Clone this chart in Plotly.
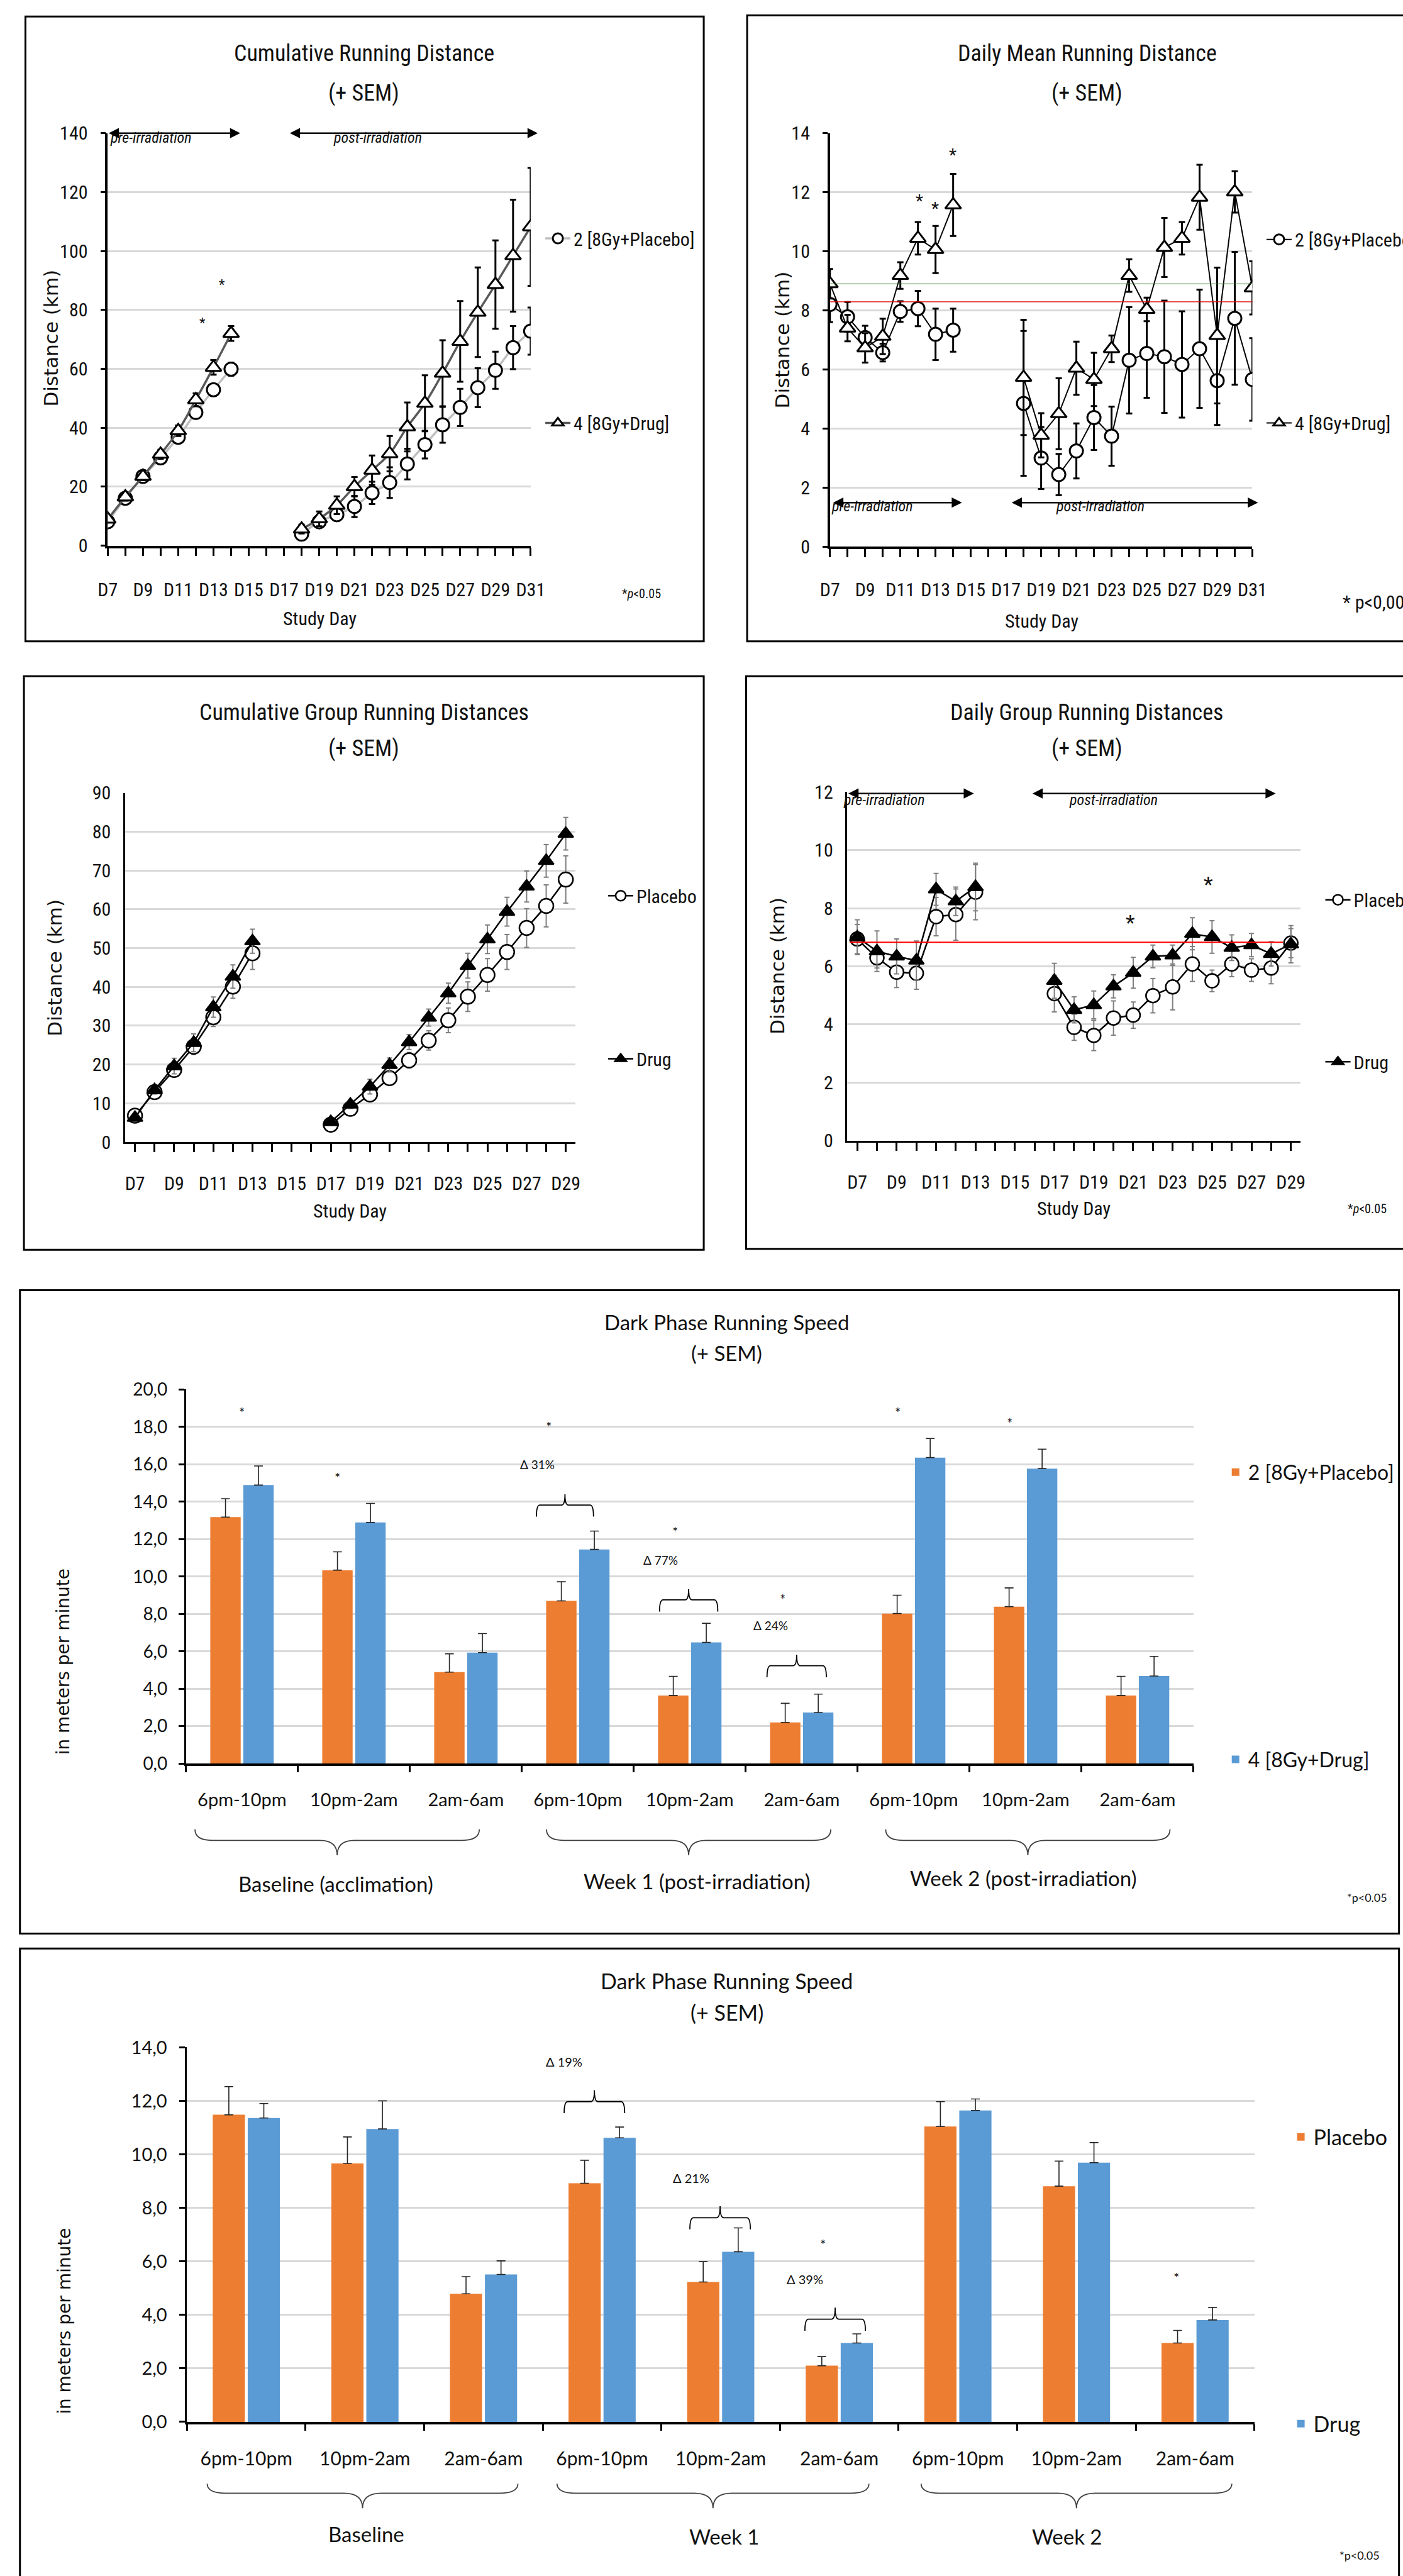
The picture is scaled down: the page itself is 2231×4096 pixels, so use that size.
import plotly.graph_objects as go

REF_W, REF_H = 2813, 5165
OUT_W, OUT_H = 2231, 4096


def px(x):
    return x / REF_W


def py(y):
    return 1 - y / REF_H


N = None
# ---------------- data ----------------
days_a = list(range(7, 32))                      # D7 .. D31
day_ticks_a = list(range(7, 32, 2))
day_labels_a = [f"D{d}" for d in day_ticks_a]

cum_placebo = [8.1, 16.1, 23.5, 29.8, 36.8, 45.2, 52.9, 59.9, N, N, N,
               3.9, 8.1, 10.5, 13.3, 17.9, 21.4, 27.7, 34.3, 41.0, 46.9, 53.6, 59.5, 67.2, 72.8]
cum_placebo_sem = [0.8, 1.0, 1.2, 1.3, 1.5, 1.8, 2.0, 2.2, N, N, N,
                   1.0, 1.5, 2.0, 3.6, 3.8, 5.2, 5.2, 4.7, 6.1, 6.3, 6.6, 6.3, 7.3, 8.0]
cum_drug = [9.0, 16.5, 23.5, 31.0, 39.0, 49.5, 60.5, 72.0, N, N, N,
            5.6, 9.1, 13.7, 20.0, 25.6, 31.2, 40.3, 48.3, 58.5, 69.3, 79.2, 88.6, 98.4, 108.2]
cum_drug_sem = [1.0, 1.2, 1.3, 1.5, 1.8, 2.2, 2.5, 2.5, N, N, N,
                1.5, 2.5, 3.0, 3.3, 5.0, 6.0, 8.3, 9.5, 11.2, 13.7, 15.2, 15.0, 19.0, 20.0]

dm_placebo = [8.2, 7.78, 7.08, 6.57, 7.96, 8.06, 7.19, 7.33, N, N, N,
              4.85, 3.0, 2.44, 3.24, 4.37, 3.74, 6.31, 6.54, 6.43, 6.17, 6.7, 5.62, 7.73, 5.66]
dm_placebo_sem = [0.6, 0.5, 0.4, 0.3, 0.35, 0.6, 0.87, 0.73, N, N, N,
                  2.45, 1.05, 0.7, 0.93, 1.1, 1.0, 1.8, 1.5, 1.9, 1.8, 2.0, 1.5, 2.25, 1.4]
dm_drug = [8.9, 7.4, 6.73, 7.12, 9.18, 10.44, 10.06, 11.57, N, N, N,
           5.73, 3.77, 4.5, 6.04, 5.66, 6.7, 9.18, 8.03, 10.13, 10.44, 11.83, 7.15, 12.01, 8.76]
dm_drug_sem = [0.5, 0.45, 0.5, 0.6, 0.45, 0.55, 0.8, 1.05, N, N, N,
               1.95, 0.75, 1.2, 0.9, 0.9, 0.45, 0.55, 0.4, 1.0, 0.55, 1.1, 2.3, 0.7, 0.9]
dm_ref_green = 8.9
dm_ref_red = 8.29

days_b = list(range(7, 30))                      # D7 .. D29
day_ticks_b = list(range(7, 30, 2))
day_labels_b = [f"D{d}" for d in day_ticks_b]

cg_placebo = [6.8, 12.9, 18.6, 24.6, 32.2, 40.1, 48.7, N, N, N,
              4.5, 8.6, 12.3, 16.5, 21.1, 26.2, 31.4, 37.5, 43.1, 49.0, 55.2, 60.9, 67.7]
cg_placebo_sem = [0.8, 1.2, 1.6, 2.0, 2.4, 3.0, 4.2, N, N, N,
                  0.8, 1.0, 1.3, 1.6, 2.0, 2.5, 3.2, 3.8, 4.2, 4.5, 5.0, 5.4, 6.1]
cg_drug = [6.3, 13.4, 19.6, 25.6, 34.8, 42.7, 51.8, N, N, N,
           5.2, 9.7, 14.3, 19.9, 25.8, 32.1, 38.4, 45.5, 52.3, 59.4, 65.9, 72.5, 79.5]
cg_drug_sem = [0.8, 1.0, 2.0, 2.3, 2.6, 3.0, 3.1, N, N, N,
               0.8, 1.0, 1.9, 1.8, 1.9, 2.2, 2.6, 3.2, 3.7, 3.7, 4.0, 4.2, 4.2]

dg_placebo = [6.94, 6.29, 5.8, 5.76, 7.71, 7.78, 8.55, N, N, N,
              5.06, 3.9, 3.62, 4.22, 4.32, 4.99, 5.29, 6.08, 5.5, 6.08, 5.87, 5.94, 6.8]
dg_placebo_sem = [0.5, 0.35, 0.53, 0.55, 0.66, 0.88, 0.95, N, N, N,
                  0.63, 0.45, 0.52, 0.59, 0.45, 0.59, 0.79, 0.6, 0.37, 0.44, 0.39, 0.54, 0.5]
dg_drug = [7.0, 6.52, 6.34, 6.2, 8.65, 8.24, 8.73, N, N, N,
           5.5, 4.5, 4.67, 5.31, 5.78, 6.34, 6.38, 7.12, 7.01, 6.64, 6.73, 6.43, 6.76]
dg_drug_sem = [0.6, 0.7, 0.6, 0.67, 0.55, 0.49, 0.82, N, N, N,
               0.6, 0.45, 0.48, 0.4, 0.53, 0.39, 0.35, 0.55, 0.56, 0.44, 0.4, 0.42, 0.64]
dg_ref_red = 6.83

slot_labels = ["6pm-10pm", "10pm-2am", "2am-6am"] * 3
slot_pos = list(range(9))
groups_1 = ["Baseline (acclimation)", "Week 1 (post-irradiation)", "Week 2 (post-irradiation)"]
groups_2 = ["Baseline", "Week 1", "Week 2"]

sp1_placebo = [13.18, 10.34, 4.89, 8.70, 3.64, 2.20, 8.02, 8.39, 3.64]
sp1_placebo_sem = [0.98, 0.98, 0.98, 1.02, 1.02, 1.02, 0.98, 1.0, 1.02]
sp1_drug = [14.89, 12.89, 5.93, 11.45, 6.48, 2.73, 16.36, 15.77, 4.68]
sp1_drug_sem = [1.02, 1.02, 1.02, 0.98, 1.02, 0.98, 1.02, 1.04, 1.05]

sp2_placebo = [11.48, 9.66, 4.79, 8.92, 5.23, 2.10, 11.04, 8.81, 2.95]
sp2_placebo_sem = [1.05, 0.99, 0.64, 0.86, 0.76, 0.34, 0.93, 0.94, 0.47]
sp2_drug = [11.36, 10.95, 5.51, 10.62, 6.36, 2.95, 11.64, 9.69, 3.81]
sp2_drug_sem = [0.54, 1.05, 0.51, 0.40, 0.89, 0.34, 0.43, 0.75, 0.47]

# ---------------- styles ----------------
CAL = "Lato, 'Open Sans', sans-serif"
NAR = "'Liberation Sans Narrow', 'Roboto Condensed', 'DejaVu Sans Condensed', Lato, sans-serif"
VER = "'DejaVu Sans', Verdana, sans-serif"
TXT = "#111111"
GRID = "#d9d9d9"
ORANGE = "#ED7D31"
BLUE = "#5B9BD5"

fig = go.Figure()


def err(arr, color="black", thick=2.5, width=5, plus_only=False):
    d = dict(type="data", array=arr, color=color, thickness=thick, width=width, visible=True)
    if plus_only:
        d.update(symmetric=False, arrayminus=[0] * len(arr))
    return d


def mk(symbol, size, fill="white", lw=2.5):
    return dict(symbol=symbol, size=size, color=fill, line=dict(color="black", width=lw))


# Panel 1
fig.add_trace(go.Scatter(x=days_a, y=cum_placebo, xaxis="x", yaxis="y", mode="lines+markers",
                         name="2 [8Gy+Placebo]", legend="legend",
                         line=dict(color="#bfbfbf", width=3.5, shape="spline"),
                         marker=mk("circle", 21, lw=3), error_y=err(cum_placebo_sem, thick=3)))
fig.add_trace(go.Scatter(x=days_a, y=cum_drug, xaxis="x", yaxis="y", mode="lines+markers",
                         name="4 [8Gy+Drug]", legend="legend2",
                         line=dict(color="#595959", width=3.5, shape="spline"),
                         marker=mk("triangle-up", 22, lw=3), error_y=err(cum_drug_sem, thick=3)))
# Panel 2
fig.add_trace(go.Scatter(x=days_a, y=dm_placebo, xaxis="x2", yaxis="y2", mode="lines+markers",
                         name="2 [8Gy+Placebo]", legend="legend3",
                         line=dict(color="black", width=2),
                         marker=mk("circle", 21, lw=3), error_y=err(dm_placebo_sem, thick=3)))
fig.add_trace(go.Scatter(x=days_a, y=dm_drug, xaxis="x2", yaxis="y2", mode="lines+markers",
                         name="4 [8Gy+Drug]", legend="legend4",
                         line=dict(color="black", width=2),
                         marker=mk("triangle-up", 22, lw=3), error_y=err(dm_drug_sem, thick=3)))
# Panel 3
fig.add_trace(go.Scatter(x=days_b, y=cg_placebo, xaxis="x3", yaxis="y3", mode="lines+markers",
                         name="Placebo", legend="legend5",
                         line=dict(color="black", width=2.5),
                         marker=mk("circle", 23), error_y=err(cg_placebo_sem, "#7f7f7f", 2, 4)))
fig.add_trace(go.Scatter(x=days_b, y=cg_drug, xaxis="x3", yaxis="y3", mode="lines+markers",
                         name="Drug", legend="legend6",
                         line=dict(color="black", width=2.5),
                         marker=mk("triangle-up", 21, "black"), error_y=err(cg_drug_sem, "#7f7f7f", 2, 4)))
# Panel 4
fig.add_trace(go.Scatter(x=days_b, y=dg_placebo, xaxis="x4", yaxis="y4", mode="lines+markers",
                         name="Placebo", legend="legend7",
                         line=dict(color="black", width=2.5),
                         marker=mk("circle", 22), error_y=err(dg_placebo_sem, "#7f7f7f", 2, 4)))
fig.add_trace(go.Scatter(x=days_b, y=dg_drug, xaxis="x4", yaxis="y4", mode="lines+markers",
                         name="Drug", legend="legend8",
                         line=dict(color="black", width=2.5),
                         marker=mk("triangle-up", 21, "black"), error_y=err(dg_drug_sem, "#7f7f7f", 2, 4)))
# Panel 5
fig.add_trace(go.Bar(x=slot_pos, y=sp1_placebo, xaxis="x5", yaxis="y5", name="2 [8Gy+Placebo]",
                     legend="legend9", marker=dict(color=ORANGE, line=dict(width=0)),
                     error_y=err(sp1_placebo_sem, "#262626", 1.6, 7, True)))
fig.add_trace(go.Bar(x=slot_pos, y=sp1_drug, xaxis="x5", yaxis="y5", name="4 [8Gy+Drug]",
                     legend="legend10", marker=dict(color=BLUE, line=dict(width=0)),
                     error_y=err(sp1_drug_sem, "#262626", 1.6, 7, True)))
# Panel 6
fig.add_trace(go.Bar(x=slot_pos, y=sp2_placebo, xaxis="x6", yaxis="y6", name="Placebo",
                     legend="legend11", marker=dict(color=ORANGE, line=dict(width=0)),
                     error_y=err(sp2_placebo_sem, "#262626", 1.6, 7, True)))
fig.add_trace(go.Bar(x=slot_pos, y=sp2_drug, xaxis="x6", yaxis="y6", name="Drug",
                     legend="legend12", marker=dict(color=BLUE, line=dict(width=0)),
                     error_y=err(sp2_drug_sem, "#262626", 1.6, 7, True)))

# ---------------- axes ----------------


def xline(dom, rng, vals, labels, anchor, standoff, tick0, lw=3.5):
    return dict(domain=dom, range=rng, anchor=anchor, showline=True, linecolor="black", linewidth=lw,
                ticks="outside", ticklen=13, tickwidth=3, tickcolor="black",
                tickmode="array", tickvals=vals, ticktext=labels,
                tickfont=dict(family=NAR, size=30, color=TXT),
                minor=dict(tick0=tick0, dtick=1, ticks="outside", ticklen=13, tickwidth=3,
                           tickcolor="black", showgrid=False),
                showgrid=False, zeroline=False, ticklabelstandoff=standoff)


def yline(dom, rng, dtick, anchor, standoff, size=30, fmt=None, lw=3.5, fam=NAR, tlen=8):
    d = dict(domain=dom, range=rng, anchor=anchor, showline=True, linecolor="black", linewidth=lw,
             ticks="outside", ticklen=tlen, tickwidth=2.5, tickcolor="black", dtick=dtick, tick0=0,
             tickfont=dict(family=fam, size=size, color=TXT),
             showgrid=True, gridcolor=GRID, gridwidth=2.5, zeroline=False,
             ticklabelstandoff=standoff)
    if fmt:
        d["tickformat"] = fmt
    return d


def xbar(dom, anchor, standoff, size):
    return dict(domain=dom, range=[-0.5, 8.5], anchor=anchor, showline=True, linecolor="black",
                linewidth=4, ticks="", tickmode="array", tickvals=slot_pos, ticktext=slot_labels,
                tickfont=dict(family=CAL, size=size, color=TXT),
                minor=dict(tick0=-0.5, dtick=1, ticks="outside", ticklen=10, tickwidth=3,
                           tickcolor="black", showgrid=False),
                showgrid=False, zeroline=False, ticklabelstandoff=standoff)


layout = dict(
    width=OUT_W, height=OUT_H, margin=dict(l=0, r=0, t=0, b=0, autoexpand=False),
    paper_bgcolor="white", plot_bgcolor="rgba(0,0,0,0)", separators=", ", showlegend=True,
    barmode="group", bargap=0.41, bargroupgap=0.08,
    xaxis=xline([px(216), px(1064)], [7, 31], day_ticks_a, day_labels_a, "y", 28, 7),
    yaxis=yline([py(1094), py(267)], [0, 140], 20, "x", 14),
    xaxis2=xline([px(1664), px(2511)], [7, 31], day_ticks_a, day_labels_a, "y2", 26, 7),
    yaxis2=yline([py(1096), py(267)], [0, 14], 2, "x2", 14),
    xaxis3=xline([px(251), px(1154)], [6.5, 29.5], day_ticks_b, day_labels_b, "y3", 24, 7, 3),
    yaxis3=yline([py(2290), py(1590)], [0, 90], 10, "x3", 14, lw=2.5, tlen=0),
    xaxis4=xline([px(1699), px(2608)], [6.5, 29.5], day_ticks_b, day_labels_b, "y4", 24, 7, 3),
    yaxis4=yline([py(2287), py(1588)], [0, 12], 2, "x4", 14, lw=2.5, tlen=0),
    xaxis5=xbar([px(373), px(2393)], "y5", 29, 29),
    yaxis5=yline([py(3536), py(2786)], [0, 20], 2, "x5", 12, 28, ".1f", 3, CAL, 9),
    xaxis6=xbar([px(375), px(2515)], "y6", 29, 30),
    yaxis6=yline([py(4856), py(4105)], [0, 14], 2, "x6", 14, 29, ".1f", 3, CAL, 9),
)

# ---------------- legends ----------------
legend_spots = [
    ("legend", 1087, 478, NAR, 30, 40), ("legend2", 1087, 848, NAR, 30, 40),
    ("legend3", 2533, 480, NAR, 30, 40), ("legend4", 2533, 848, NAR, 30, 40),
    ("legend5", 1213, 1796, NAR, 30, 40), ("legend6", 1213, 2123, NAR, 30, 40),
    ("legend7", 2651, 1804, NAR, 30, 40), ("legend8", 2651, 2129, NAR, 30, 40),
    ("legend9", 2452, 2952, CAL, 32, 30), ("legend10", 2452, 3528, CAL, 32, 30),
    ("legend11", 2583, 4285, CAL, 34, 30), ("legend12", 2583, 4860, CAL, 34, 30),
]
for name, lx, ly, fam, fs, iw in legend_spots:
    layout[name] = dict(x=px(lx), y=py(ly), xanchor="left", yanchor="middle", xref="paper", yref="paper",
                        bgcolor="rgba(0,0,0,0)", borderwidth=0, itemwidth=iw, visible=True,
                        font=dict(family=fam, size=fs, color=TXT))

# ---------------- annotations ----------------
ann = []


def txt(x, y, s, size, family=CAL, xanchor="center", angle=0, xref="paper", yref="paper",
        color=TXT, xshift=0):
    if xref == "paper":
        x = px(x)
    if yref == "paper":
        y = py(y)
    ann.append(dict(x=x, y=y, xref=xref, yref=yref, text=s, showarrow=False, xanchor=xanchor,
                    yanchor="middle", textangle=angle, xshift=xshift,
                    font=dict(family=family, size=size, color=color)))


# titles
for cx, y1, y2, t, fam, fs in [(730, 107, 186, "Cumulative Running Distance", NAR, 36),
                               (2180, 107, 186, "Daily Mean Running Distance", NAR, 36),
                               (730, 1429, 1500, "Cumulative Group Running Distances", NAR, 36),
                               (2180, 1429, 1500, "Daily Group Running Distances", NAR, 36),
                               (1457, 2650, 2713, "Dark Phase Running Speed", CAL, 33),
                               (1457, 3971, 4035, "Dark Phase Running Speed", CAL, 34)]:
    txt(cx, y1, t, fs, fam)
    txt(cx, y2, "(+ SEM)", fs, fam)

# axis titles
for x, y in [(102, 678), (1568, 682), (110, 1940), (1559, 1936)]:
    txt(x, y, "Distance (km)", 31, VER, angle=-90)
for x, y in [(126, 3332), (130, 4654)]:
    txt(x, y, "in meters per minute", 28, VER, angle=-90)
for x, y in [(641, 1240), (2088, 1245), (702, 2428), (2153, 2423)]:
    txt(x, y, "Study Day", 30, NAR)

# significance notes
txt(1245, 1191, "*<i>p</i>&lt;0.05", 20, NAR, xanchor="left")
txt(2690, 1207, "* p&lt;0,002", 30, NAR, xanchor="left")
txt(2699, 2423, "*<i>p</i>&lt;0.05", 20, NAR, xanchor="left")
txt(2698, 3805, "*p&lt;0.05", 18, CAL, xanchor="left")
txt(2683, 5124, "*p&lt;0.05", 18, CAL, xanchor="left")

# period labels
period_text = [("x", "y", 7.05, 138.4, 0, 22.3, 138.4),
               ("x2", "y2", 7.0, 1.36, 0, 22.35, 1.36),
               ("x4", "y4", 6.5, 11.72, -8, 20.0, 11.72)]
for xr, yr, xp, yp, xs, xq, yq in period_text:
    txt(xp, yp, "<i>pre-irradiation</i>", 24, NAR, xanchor="left", xref=xr, yref=yr, xshift=xs)
    txt(xq, yq, "<i>post-irradiation</i>", 24, NAR, xref=xr, yref=yr)

# period arrows
arrows = [("x", "y", 7.0, 14.52, 140), ("x", "y", 17.28, 31.4, 140),
          ("x2", "y2", 7.13, 14.5, 1.49), ("x2", "y2", 17.27, 31.32, 1.49),
          ("x4", "y4", 6.5, 12.92, 11.95), ("x4", "y4", 15.84, 28.23, 11.95)]
for xr, yr, a0, a1, yv in arrows:
    ann.append(dict(x=a1, y=yv, ax=a0, ay=yv, xref=xr, yref=yr, axref=xr, ayref=yr, text="",
                    showarrow=True, arrowhead=2, startarrowhead=2, arrowside="end+start",
                    arrowwidth=2.5, arrowsize=1.3, startarrowsize=1.3, arrowcolor="black",
                    standoff=0, startstandoff=0))

# asterisks on line charts
for xr, yr, xv, yv, fs in [("x", "y", 13.47, 88.5, 22), ("x", "y", 12.36, 75.5, 22),
                           ("x2", "y2", 12.07, 11.7, 28), ("x2", "y2", 12.99, 11.45, 28),
                           ("x2", "y2", 13.98, 13.25, 28),
                           ("x4", "y4", 20.87, 7.5, 34), ("x4", "y4", 24.8, 8.83, 34)]:
    txt(xv, yv, "*", fs, NAR, xref=xr, yref=yr)

# bar chart significance + deltas
p5_stars = [(0.0, 18.8), (0.85, 15.3), (2.74, 18.0), (3.87, 12.4), (4.83, 8.8), (5.86, 18.8), (6.86, 18.2)]
p5_deltas = [("Δ 31%", 2.64, 16.0), ("Δ 77%", 3.74, 10.9), ("Δ 24%", 4.72, 7.4)]
p6_stars = [(2.84, 14.85), (4.86, 6.65), (7.84, 5.4)]
p6_deltas = [("Δ 19%", 2.68, 13.48), ("Δ 21%", 3.75, 9.13), ("Δ 39%", 4.71, 5.33)]
for xv, yv in p5_stars:
    txt(xv, yv, "*", 22, xref="x5", yref="y5")
for s, xv, yv in p5_deltas:
    txt(xv, yv, s, 19, xref="x5", yref="y5")
for xv, yv in p6_stars:
    txt(xv, yv, "*", 22, xref="x6", yref="y6")
for s, xv, yv in p6_deltas:
    txt(xv, yv, s, 20, xref="x6", yref="y6")

# group labels under bar charts
for (gx, gy), g in zip([(673, 3777), (1397, 3771), (2052, 3765)], groups_1):
    txt(gx, gy, g, 33)
for (gx, gy), g in zip([(734, 5080), (1452, 5085), (2140, 5085)], groups_2):
    txt(gx, gy, g, 33)

layout["annotations"] = ann

# ---------------- shapes ----------------
shapes = []
# panel frames
for x0, y0, x1, y1 in [(51, 33, 1411, 1286), (1498, 31, 2840, 1286), (48, 1356, 1411, 2506),
                       (1496, 1356, 2840, 2504), (40, 2587, 2805, 3877), (40, 3907, 2805, 5200)]:
    shapes.append(dict(type="rect", xref="paper", yref="paper", x0=px(x0), x1=px(x1),
                       y0=py(y1), y1=py(y0), line=dict(color="black", width=3), layer="below"))

# reference lines
shapes.append(dict(type="line", xref="x2", yref="y2", x0=7, x1=31.37, y0=dm_ref_green, y1=dm_ref_green,
                   line=dict(color="#3a8a2a", width=1.2)))
shapes.append(dict(type="line", xref="x2", yref="y2", x0=7, x1=31.37, y0=dm_ref_red, y1=dm_ref_red,
                   line=dict(color="#e00000", width=1.2)))
shapes.append(dict(type="line", xref="x4", yref="y4", x0=6.62, x1=28.6, y0=dg_ref_red, y1=dg_ref_red,
                   line=dict(color="#ff0000", width=2)))


def brace_down(x0, x1, yh, drop, rise):
    xc = (x0 + x1) / 2
    dx = (x1 - x0) * 0.06
    return (f"M{x0},{yh - drop} Q{x0},{yh} {x0 + dx},{yh} L{xc - dx},{yh} "
            f"Q{xc},{yh} {xc},{yh + rise} Q{xc},{yh} {xc + dx},{yh} L{x1 - dx},{yh} "
            f"Q{x1},{yh} {x1},{yh - drop}")


p5_brackets = [(2.63, 3.14, 13.82), (3.73, 4.25, 8.75), (4.69, 5.22, 5.23)]
p6_brackets = [(2.68, 3.19, 11.97), (3.74, 4.25, 7.63), (4.71, 5.22, 3.84)]
for b in p5_brackets:
    shapes.append(dict(type="path", xref="x5", yref="y5", path=brace_down(b[0], b[1], b[2], 0.62, 0.58),
                       line=dict(color="black", width=1.8)))
for b in p6_brackets:
    shapes.append(dict(type="path", xref="x6", yref="y6", path=brace_down(b[0], b[1], b[2], 0.43, 0.43),
                       line=dict(color="black", width=1.8)))

# group braces below the category axis (paper y)
p5_groups = [(-0.42, 2.12), (2.72, 5.26), (5.75, 8.29)]
p6_groups = [(-0.33, 2.29), (2.62, 5.25), (5.69, 8.31)]
for (g0, g1) in p5_groups:
    shapes.append(dict(type="path", xref="x5", yref="paper",
                       path=brace_down(g0, g1, py(3690), py(3690) - py(3668), py(3720) - py(3690)),
                       line=dict(color="#404040", width=1.8)))
for (g0, g1) in p6_groups:
    shapes.append(dict(type="path", xref="x6", yref="paper",
                       path=brace_down(g0, g1, py(4999), py(4999) - py(4980), py(5029) - py(4999)),
                       line=dict(color="#404040", width=1.8)))

layout["shapes"] = shapes
fig.update_layout(**layout)
fig.write_html("out.html")
